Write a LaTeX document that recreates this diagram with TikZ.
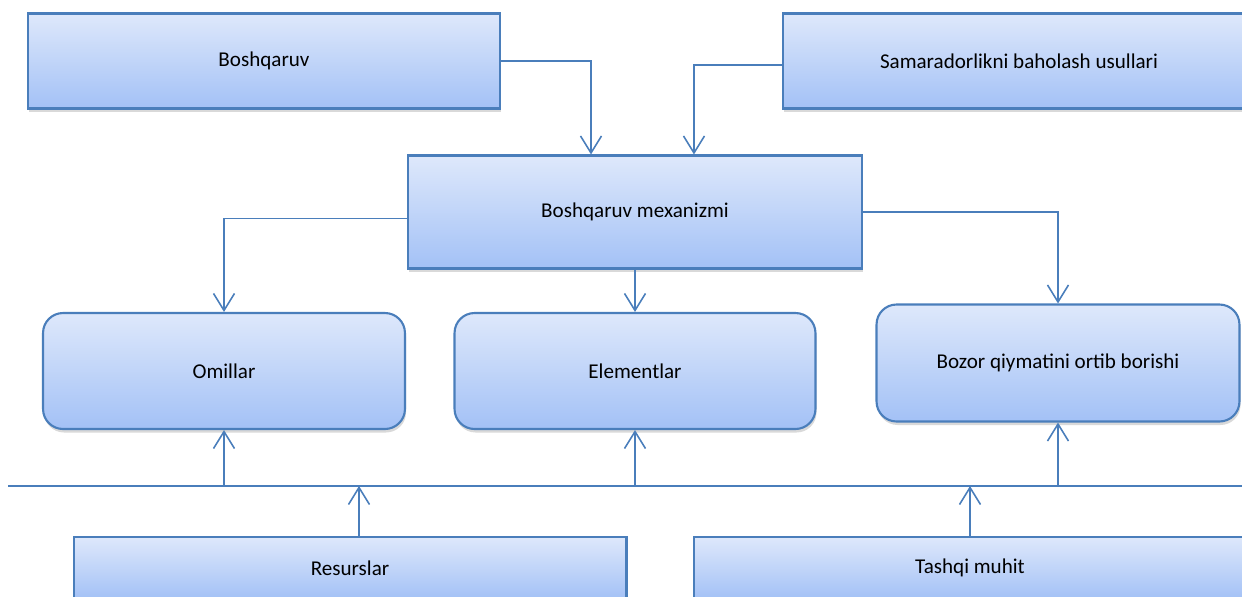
\documentclass[tikz,border=0pt]{standalone}
\usepackage{fontspec}
\setmainfont{Carlito}
\usepackage{xcolor}
\usepackage{tikz}
\usetikzlibrary{arrows.meta,calc,shadows}
\definecolor{lineblue}{HTML}{4A7EBB}
\definecolor{boxtop}{HTML}{DEE8FB}
\definecolor{boxbot}{HTML}{A3C1F6}
\tikzset{
  box/.style={rectangle,draw=lineblue,line width=1.2pt,
    top color=boxtop,bottom color=boxbot,
    drop shadow={opacity=0.3,shadow xshift=0.6pt,shadow yshift=-2pt},
    font=\fontsize{12}{14}\selectfont,text=black},
  rbox/.style={box,rounded corners=0.4cm},
  conn/.style={draw=lineblue,line width=0.9pt,
    -{Straight Barb[length=0.34cm,width=0.42cm,line width=0.9pt]}},
  bus/.style={draw=lineblue,line width=1.1pt}
}

\begin{document}
\begin{tikzpicture}[x=0.02cm,y=-0.02cm]
  \useasboundingbox (0,0) rectangle (1242,596);
  \node[box,minimum width=9.44cm,minimum height=1.9cm] (boshq) at (264,61) {Boshqaruv};
  \node[box,minimum width=9.44cm,minimum height=1.9cm] (samar) at (1019,61) {Samaradorlikni baholash usullari};
  \node[box,minimum width=9.08cm,minimum height=2.26cm] (mexan) at (635,212) {Boshqaruv mexanizmi};
  \node[rbox,minimum width=7.24cm,minimum height=2.32cm] (omil) at (224,371) {Omillar};
  \node[rbox,minimum width=7.22cm,minimum height=2.32cm] (elem) at (635,371) {Elementlar};
  \node[rbox,minimum width=7.26cm,minimum height=2.34cm] (bozor) at (1058,363) {Bozor qiymatini ortib borishi};
  \node[box,minimum width=11.06cm,minimum height=1.24cm] (resurs) at (350,568) {Resurslar};
  \node[box,minimum width=11.04cm,minimum height=1.24cm] (tashqi) at (970,568) {Tashqi muhit};
  \coordinate (busl) at (8,486);
  \coordinate (busr) at (1242,486);
  \draw[bus] (busl) -- (busr);
  \draw[conn] (boshq.east) -| ([xshift=-0.88cm]mexan.north);
  \draw[conn] ([yshift=-0.08cm]samar.west) -| ([xshift=1.18cm]mexan.north);
  \draw[conn] ([yshift=-0.13cm]mexan.west) -| (omil.north);
  \draw[conn] (mexan.east) -| (bozor.north);
  \draw[conn] (mexan.south) -- (elem.north);
  \draw[conn] (omil.south |- busl) -- (omil.south);
  \draw[conn] (elem.south |- busl) -- (elem.south);
  \draw[conn] (bozor.south |- busl) -- (bozor.south);
  \draw[conn] ([xshift=0.18cm]resurs.north) -- ([xshift=0.18cm]resurs.north |- busl);
  \draw[conn] (tashqi.north) -- (tashqi.north |- busl);
\end{tikzpicture}
\end{document}
